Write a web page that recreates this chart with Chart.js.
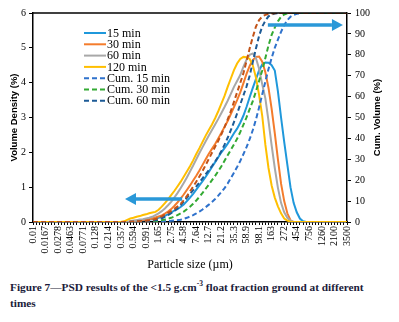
<!DOCTYPE html>
<html>
<head>
<meta charset="utf-8">
<script src="https://cdn.jsdelivr.net/npm/chart.js@4.4.1/dist/chart.umd.min.js"></script>
<style>
  html, body { margin: 0; padding: 0; background: #fff; }
  #wrap { position: relative; width: 399px; height: 322px; }
  #psd { position: absolute; left: 0; top: 0; }
  #caption {
    position: absolute; left: 10px; top: 280px;
    font: bold 11.3px/15.7px "Liberation Serif", "Times New Roman", serif;
    color: #1b1b3a; white-space: nowrap;
  }
  #caption sup { font-size: 7.5px; line-height: 0; }
</style>
</head>
<body>
<div id="wrap">
  <canvas id="psd" width="399" height="275"></canvas>
  <div id="caption">Figure 7—PSD results of the &lt;1.5 g.cm<sup>-3</sup> float fraction ground at different<br>times</div>
</div>
<script>
// ── Data ──────────────────────────────────────────────────────────────────
// 101 size bins (0.01–3500 µm); only every 4th bin carries a tick label.
const sizeLabels = ['0.01', '0.0167', '0.0278', '0.0463', '0.0771', '0.128', '0.214', '0.357',
  '0.594', '0.991', '1.65', '2.75', '4.58', '7.64', '12.7', '21.2', '35.3', '58.9', '98.1',
  '163', '272', '454', '756', '1260', '2100', '3500'];

// Volume density (%) per bin
const dens15 = [
  0,0,0,0,0,0,0,0,0,0, 0,0,0,0,0,0,0,0,0,0, 0,0,0,0,0,0,0,0,0,0, 0,
  0.01,0.02,0.03,0.04,0.05,0.06,0.07,0.08,0.1,0.12,
  0.15,0.18,0.22,0.27,0.33,0.37,0.43,0.5,0.6,0.7,
  0.81,0.93,1.05,1.17,1.3,1.44,1.58,1.72,1.86,2.0,
  2.12,2.25,2.4,2.55,2.68,2.85,3.05,3.3,3.58,3.85,
  4.1,4.35,4.52,4.58,4.57,4.5,4.35,3.75,3.0,2.3,
  1.65,1.0,0.55,0.28,0.1,0.02,
  0,0,0,0,0,0,0,0,0,0,0,0,0,0];
const dens30 = [
  0,0,0,0,0,0,0,0,0,0, 0,0,0,0,0,0,0,0,0,0, 0,0,0,0,0,0,0,0,0,0, 0,
  0.01,0.03,0.04,0.05,0.06,0.07,0.08,0.1,0.13,0.16,
  0.19,0.24,0.3,0.37,0.46,0.56,0.67,0.79,0.92,1.05,
  1.19,1.33,1.48,1.64,1.8,1.96,2.1,2.24,2.4,2.56,
  2.73,2.9,3.1,3.3,3.5,3.72,3.98,4.25,4.48,4.65,
  4.74,4.75,4.6,4.3,3.85,3.25,2.55,1.8,1.1,0.6,
  0.25,0.05,
  0,0,0,0,0,0,0,0,0,0,0,0,0,0,0,0,0,0];
const dens60 = [
  0,0,0,0,0,0,0,0,0,0, 0,0,0,0,0,0,0,0,0,0, 0,0,0,0,0,0,0,0,0,0, 0,
  0.02,0.04,0.05,0.07,0.08,0.1,0.12,0.15,0.2,0.25,
  0.31,0.39,0.48,0.58,0.7,0.83,0.97,1.12,1.28,1.45,
  1.62,1.8,1.98,2.15,2.32,2.48,2.64,2.8,2.96,3.13,
  3.3,3.48,3.68,3.88,4.05,4.22,4.45,4.66,4.8,4.84,
  4.7,4.4,3.95,3.55,2.9,2.2,1.55,0.98,0.55,0.28,
  0.12,0.04,
  0,0,0,0,0,0,0,0,0,0,0,0,0,0,0,0,0,0];
const dens120 = [
  0,0,0,0,0,0,0,0,0,0, 0,0,0,0,0,0,0,0,0,0, 0,0,0,0,0,0,0,0,0,
  0.02,0.06,0.1,0.12,0.15,0.17,0.2,0.22,0.25,0.27,0.29,0.35,
  0.44,0.54,0.65,0.77,0.89,1.02,1.15,1.3,1.45,1.6,
  1.77,1.95,2.12,2.3,2.48,2.64,2.8,2.98,3.18,3.4,
  3.62,3.88,4.12,4.36,4.55,4.68,4.74,4.73,4.68,4.5,
  4.15,3.65,3.05,2.22,1.55,1.05,0.7,0.45,0.25,0.1,
  0.04,0.01,
  0,0,0,0,0,0,0,0,0,0,0,0,0,0,0,0,0,0];

// Cumulative volume (%) per bin
const cum15 = [
  0,0,0,0,0,0,0,0,0,0, 0,0,0,0,0,0,0,0,0,0, 0,0,0,0,0,0,0,0,0,0, 0,0,
  0.02,0.04,0.06,0.08,0.1,0.13,0.16,0.2,0.25,
  0.3,0.4,0.5,0.6,0.75,0.9,1.1,1.5,2.0,2.6,
  3.3,4.1,5.0,6.0,7.1,8.3,9.6,11.0,12.6,14.4,
  16.2,18.4,21.0,23.6,26.3,29.2,32.4,35.8,39.6,44.0,
  49.0,54.8,61.0,67.2,73.2,78.5,83.3,87.3,91.0,94.2,
  96.6,98.2,99.1,99.6,99.9,
  100,100,100,100,100,100,100,100,100,100,100,100,100,100,100];
const cum30 = [
  0,0,0,0,0,0,0,0,0,0, 0,0,0,0,0,0,0,0,0,0, 0,0,0,0,0,0,0,0,0,0, 0,
  0.02,0.05,0.08,0.12,0.16,0.2,0.25,0.32,0.4,0.6,
  0.9,1.2,1.6,2.0,2.6,3.3,4.1,5.0,6.1,7.3,
  8.7,10.3,12.0,13.9,15.9,17.9,20.0,22.1,24.3,26.7,
  29.3,31.9,34.5,37.1,39.8,43.0,46.5,50.1,54.0,57.8,
  62.5,67.5,72.5,78.5,84.5,89.5,93.0,96.0,98.2,99.3,
  99.8,
  100,100,100,100,100,100,100,100,100,100,100,100,100,100,100,100,100,100,100];
const cum60 = [
  0,0,0,0,0,0,0,0,0,0, 0,0,0,0,0,0,0,0,0,0, 0,0,0,0,0,0,0,0,0,0,
  0.03,0.06,0.1,0.15,0.2,0.3,0.4,0.5,0.65,0.85,1.2,
  1.8,2.5,3.3,4.2,5.3,6.5,8.0,9.8,11.6,13.4,
  15.2,17.0,18.9,20.9,22.9,24.8,26.8,28.9,31.3,34.0,
  37.0,40.3,43.9,47.8,51.9,56.2,60.5,64.8,70.0,76.5,
  83.0,89.0,93.5,96.3,98.4,99.3,99.7,99.9,
  100,100,100,100,100,100,100,100,100,100,100,100,100,100,100,100,100,100,100,100,100,100];
const cum120 = [
  0,0,0,0,0,0,0,0,0,0, 0,0,0,0,0,0,0,0,0,0, 0,0,0,0,0,0,0,0,0,0,
  0.05,0.1,0.2,0.3,0.4,0.5,0.65,0.8,1.0,1.4,2.0,
  2.7,3.5,4.4,5.3,6.3,7.4,8.6,10.3,12.4,14.6,
  16.9,19.3,21.8,24.4,27.3,30.2,33.1,36.0,38.9,42.0,
  45.4,49.1,53.0,57.5,62.0,66.5,71.1,77.0,83.0,88.5,
  93.5,96.6,98.3,99.1,99.5,99.8,99.9,
  100,100,100,100,100,100,100,100,100,100,100,100,100,100,100,100,100,100,100,100,100,100,100];

// Direction arrows, in data units (bin index / axis value)
const arrowLeft  = { from: 47.5, to: 29.3, at: 0.66, axis: 'y' };
const arrowRight = { from: 74.8, to: 98.7, at: 94.3, axis: 'y2' };

// ── Styling helpers ───────────────────────────────────────────────────────
const SERIF = '"Liberation Serif", "Times New Roman", serif';
const SANS  = '"Liberation Sans", Arial, sans-serif';
const ARROW_BLUE = '#2a98d8';

const toPoints = arr => arr.map((v, i) => ({ x: i, y: v }));

function series(label, arr, color, axis, dashed, inLegend) {
  return {
    label, data: toPoints(arr), yAxisID: axis,
    borderColor: color, backgroundColor: color,
    borderWidth: 2, borderDash: dashed ? [5, 3] : [],
    pointRadius: 0, tension: 0, fill: false,
    inLegend
  };
}

const datasets = [
  series('15 min',       dens15,  '#1f98db', 'y',  false, true),
  series('30 min',       dens30,  '#f47c2c', 'y',  false, true),
  series('60 min',       dens60,  '#a8a8a8', 'y',  false, true),
  series('120 min',      dens120, '#ffbf00', 'y',  false, true),
  series('Cum. 15 min',  cum15,   '#2f72cc', 'y2', true,  true),
  series('Cum. 30 min',  cum30,   '#33aa33', 'y2', true,  true),
  series('Cum. 60 min',  cum60,   '#1d5b96', 'y2', true,  true),
  series('Cum. 120 min', cum120,  '#c25318', 'y2', true,  false),
];
// later series on top, as in the original spreadsheet chart
datasets.forEach((d, i) => { d.order = datasets.length - i; });

// ── Extra drawing: frame, arrows, legend, right-hand title ────────────────
function drawArrow(ctx, x1, y, x2) {
  const dir = Math.sign(x2 - x1);
  const head = 11, half = 6;
  ctx.save();
  ctx.strokeStyle = ARROW_BLUE;
  ctx.fillStyle = ARROW_BLUE;
  ctx.lineWidth = 3.5;
  ctx.beginPath();
  ctx.moveTo(x1, y);
  ctx.lineTo(x2 - dir * head, y);
  ctx.stroke();
  ctx.beginPath();
  ctx.moveTo(x2, y);
  ctx.lineTo(x2 - dir * head, y - half);
  ctx.lineTo(x2 - dir * head, y + half);
  ctx.closePath();
  ctx.fill();
  ctx.restore();
}

const extras = {
  id: 'extras',
  afterDatasetsDraw(chart) {
    const { ctx, chartArea: ca, scales } = chart;

    // top frame line
    ctx.save();
    ctx.strokeStyle = '#000';
    ctx.lineWidth = 1.5;
    ctx.beginPath();
    ctx.moveTo(ca.left, ca.top);
    ctx.lineTo(ca.right, ca.top);
    ctx.stroke();
    ctx.restore();

    [arrowLeft, arrowRight].forEach(a => {
      drawArrow(ctx,
        scales.x.getPixelForValue(a.from),
        scales[a.axis].getPixelForValue(a.at),
        scales.x.getPixelForValue(a.to));
    });

    // legend inside the plot, top-left
    const lx = ca.left + 51, ly = ca.top + 20, row = 11.3;
    ctx.save();
    ctx.font = '12px ' + SERIF;
    ctx.textBaseline = 'middle';
    ctx.fillStyle = '#000';
    chart.data.datasets.filter(d => d.inLegend).forEach((d, i) => {
      const y = ly + i * row;
      ctx.strokeStyle = d.borderColor;
      ctx.lineWidth = 2;
      ctx.setLineDash(d.borderDash);
      ctx.beginPath();
      ctx.moveTo(lx, y);
      ctx.lineTo(lx + 22, y);
      ctx.stroke();
      ctx.setLineDash([]);
      ctx.fillText(d.label, lx + 23, y + 0.5);
    });
    ctx.restore();

    // secondary axis title, reading bottom to top
    ctx.save();
    ctx.font = 'bold 9.5px ' + SANS;
    ctx.fillStyle = '#000';
    ctx.textAlign = 'center';
    ctx.textBaseline = 'middle';
    ctx.translate(scales.y2.right - 22, (ca.top + ca.bottom) / 2);
    ctx.rotate(-Math.PI / 2);
    ctx.fillText('Cum. Volume (%)', 0, 0);
    ctx.restore();
  }
};

// ── Chart ─────────────────────────────────────────────────────────────────
const tickFont = { family: SERIF, size: 10 };
const axisLine = { color: '#000', width: 1.5 };

new Chart(document.getElementById('psd'), {
  type: 'line',
  data: { datasets },
  options: {
    responsive: false,
    animation: false,
    devicePixelRatio: 1,
    layout: { padding: { top: 13, left: 0, right: 0, bottom: 0 } },
    plugins: { legend: { display: false }, tooltip: { enabled: false } },
    scales: {
      x: {
        type: 'linear', position: 'bottom', min: 0, max: 100,
        border: axisLine,
        grid: { drawOnChartArea: false, drawTicks: true, tickLength: 3, color: '#000', lineWidth: 1 },
        ticks: {
          stepSize: 1, autoSkip: false, minRotation: 90, maxRotation: 90,
          padding: 1, color: '#000', font: tickFont,
          callback: v => (v % 4 === 0 ? sizeLabels[v / 4] : '')
        },
        title: {
          display: true, text: 'Particle size (µm)', color: '#000',
          font: { family: SERIF, size: 12 }, padding: { top: 0, bottom: 3 }
        },
        afterFit: s => { s.height = 53; }
      },
      y: {
        type: 'linear', position: 'left', min: 0, max: 6,
        border: axisLine,
        grid: { drawOnChartArea: false, tickLength: 4, color: '#000' },
        ticks: { stepSize: 1, padding: 3, color: '#000', font: tickFont },
        title: {
          display: true, text: 'Volume Density (%)', color: '#000',
          font: { family: SANS, size: 9.5, weight: 'bold' }, padding: { top: 9, bottom: 0 }
        },
        afterFit: s => { s.width = 33; }
      },
      y2: {
        type: 'linear', position: 'right', min: 0, max: 100,
        border: axisLine,
        grid: { drawOnChartArea: false, tickLength: 4, color: '#000' },
        ticks: { stepSize: 10, padding: 4, color: '#000', font: tickFont },
        afterFit: s => { s.width = 52; }
      }
    }
  },
  plugins: [extras]
});
</script>
</body>
</html>
